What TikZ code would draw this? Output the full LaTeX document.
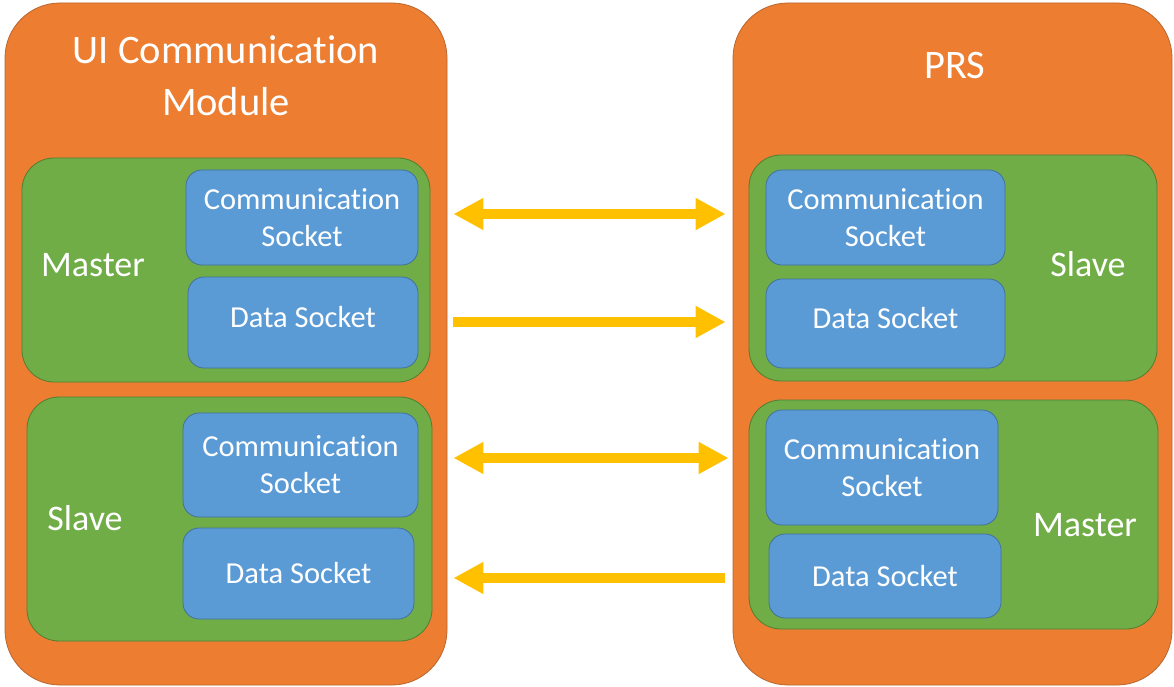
\documentclass[tikz,border=0pt]{standalone}
\usepackage{fontspec}
\setmainfont{Carlito}[Ligatures=CommonOff]
\usetikzlibrary{arrows.meta,calc}
\definecolor{modfill}{HTML}{ED7D31}
\definecolor{modline}{HTML}{B8652E}
\definecolor{rolefill}{HTML}{70AD47}
\definecolor{roleline}{HTML}{507E32}
\definecolor{sockfill}{HTML}{5B9BD5}
\definecolor{sockline}{HTML}{41719C}
\definecolor{flow}{HTML}{FFC000}
\tikzset{
  module/.style={draw=modline, fill=modfill, line width=0.8pt, rounded corners=55pt, inner sep=0pt},
  role/.style={draw=roleline, fill=rolefill, line width=0.8pt, rounded corners=32pt, inner sep=0pt},
  sock/.style={draw=sockline, fill=sockfill, line width=0.8pt, rounded corners=16pt, inner sep=0pt,
    text=white, align=center, font=\fontsize{30.5}{37}\selectfont},
  title/.style={text=white, align=center, font=\fontsize{40.5}{52}\selectfont},
  rolelabel/.style={text=white, font=\fontsize{36}{40}\selectfont},
  flowline/.style={draw=flow, line width=10pt}
}
\begin{document}
\begin{tikzpicture}[x=1pt,y=-1pt]
\useasboundingbox (0,0) rectangle (1174,687);

% the two modules
\node[module, minimum width=442pt, minimum height=682pt] (lmod) at (226,344) {};
\node[module, minimum width=439pt, minimum height=682pt] (rmod) at (952.5,344) {};
\node[title] (ltitle) at (226,76) {UI Communication\\Module};
\node[title] (rtitle) at (955,65) {PRS};

% roles inside the UI module
\node[role, minimum width=408pt, minimum height=224pt] (lmaster) at (226,270) {};
\node[role, minimum width=405pt, minimum height=244pt] (lslave) at (229.5,519) {};
\node[rolelabel] (lmasterlbl) at (93,265) {Master};
\node[rolelabel] (lslavelbl) at (85,518) {Slave};

% roles inside PRS
\node[role, minimum width=408pt, minimum height=226pt] (rslave) at (953,268) {};
\node[role, minimum width=409pt, minimum height=229pt] (rmaster) at (953.5,514.5) {};
\node[rolelabel] (rslavelbl) at (1088,264) {Slave};
\node[rolelabel] (rmasterlbl) at (1085,525) {Master};

% sockets
\node[sock, minimum width=232pt, minimum height=95pt] (lmcomm) at (302,217.5) {Communication\\Socket};
\node[sock, minimum width=230pt, minimum height=91pt, text depth=11pt] (lmdata) at (303,322.5) {Data Socket};
\node[sock, minimum width=235pt, minimum height=104pt] (lscomm) at (300.5,465) {Communication\\Socket};
\node[sock, minimum width=231pt, minimum height=91pt] (lsdata) at (298.5,573.5) {Data Socket};
\node[sock, minimum width=239pt, minimum height=95pt] (rscomm) at (885.5,217.5) {Communication\\Socket};
\node[sock, minimum width=239pt, minimum height=89pt, text depth=11pt] (rsdata) at (885.5,323.5) {Data Socket};
\node[sock, minimum width=232pt, minimum height=115pt] (rmcomm) at (882,467.5) {Communication\\Socket};
\node[sock, minimum width=232pt, minimum height=84pt] (rmdata) at (885,576) {Data Socket};

% connector end points in the gap between the modules
\coordinate (c1l) at ($(lmod.east)+(6,-130)$);
\coordinate (c1r) at ($(rmod.west)+(-7,-130)$);
\coordinate (d1l) at ($(lmod.east)+(6,-22)$);
\coordinate (d1r) at ($(rmod.west)+(-7,-22)$);
\coordinate (c2l) at ($(lmod.east)+(6,114)$);
\coordinate (c2r) at ($(rmod.west)+(-4,114)$);
\coordinate (d2l) at ($(lmod.east)+(6,234)$);
\coordinate (d2r) at ($(rmod.west)+(-8,234)$);

% connectors
\draw[flowline, {Triangle[length=30pt,width=30pt]}-{Triangle[length=30pt,width=30pt]}] (c1l) -- (c1r);
\draw[flowline, -{Triangle[length=30pt,width=30pt]}] (d1l) -- (d1r);
\draw[flowline, {Triangle[length=30pt,width=30pt]}-{Triangle[length=30pt,width=30pt]}] (c2l) -- (c2r);
\draw[flowline, -{Triangle[length=30pt,width=30pt]}] (d2r) -- (d2l);
\end{tikzpicture}
\end{document}
